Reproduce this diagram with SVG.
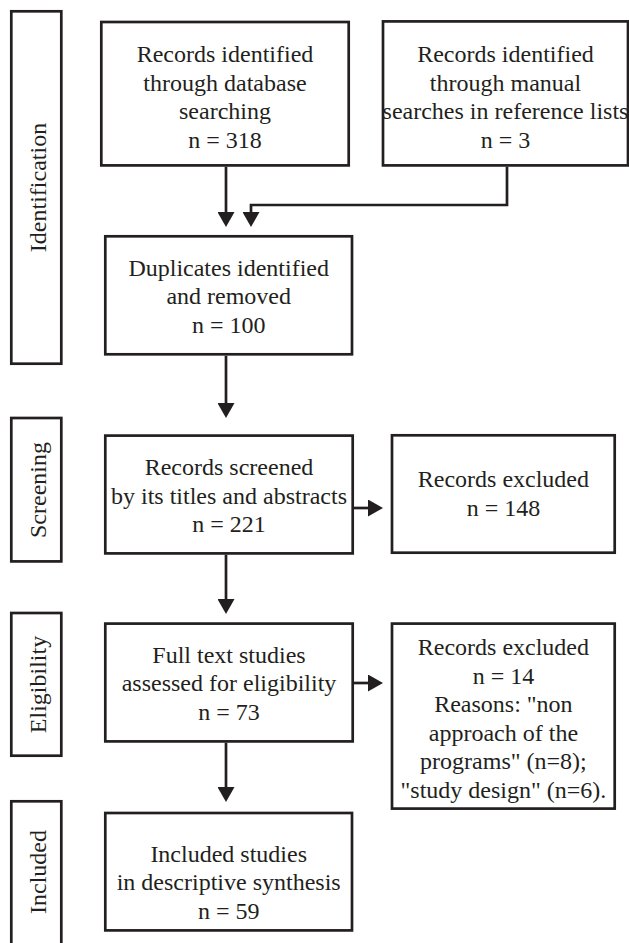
<svg xmlns="http://www.w3.org/2000/svg" width="629" height="943" viewBox="0 0 629 943">
<style>
  .box{fill:#fff;stroke:#231f20;stroke-width:2.7}
  .t{font-family:"Liberation Serif","Times New Roman",serif;font-size:24px;fill:#231f20;text-anchor:middle}
  .c{fill:none;stroke:#231f20;stroke-width:2.7}
</style>
<defs>
  <marker id="ah" markerUnits="userSpaceOnUse" viewBox="0 0 15 17" markerWidth="15" markerHeight="17" refX="5" refY="8.5" orient="auto">
    <path d="M0,0 L15,8.5 L0,17 Z" fill="#231f20"/>
  </marker>
</defs>
<rect width="629" height="943" fill="#fff"/>

<g id="stage-identification">
  <rect class="box" x="11.3" y="11.3" width="50" height="352.4"/>
  <text class="t" transform="translate(46,187.5) rotate(-90)">Identification</text>
</g>
<g id="stage-screening">
  <rect class="box" x="11.3" y="418" width="50" height="143.4"/>
  <text class="t" transform="translate(46,490) rotate(-90)">Screening</text>
</g>
<g id="stage-eligibility">
  <rect class="box" x="11.3" y="613" width="50" height="142.7"/>
  <text class="t" transform="translate(46,684.5) rotate(-90)">Eligibility</text>
</g>
<g id="stage-included">
  <rect class="box" x="11.3" y="801.3" width="50" height="160"/>
  <text class="t" transform="translate(46,872) rotate(-90)">Included</text>
</g>

<g id="n-database">
  <rect class="box" x="101.3" y="22" width="247.4" height="143.4"/>
  <text class="t" x="225" y="62">Records identified</text>
  <text class="t" x="225" y="90.5">through database</text>
  <text class="t" x="225" y="119">searching</text>
  <text class="t" x="225" y="147.5">n = 318</text>
</g>
<g id="n-manual">
  <rect class="box" x="383" y="21.4" width="245" height="144"/>
  <text class="t" x="505.5" y="62">Records identified</text>
  <text class="t" x="505.5" y="90.5">through manual</text>
  <text class="t" x="505.5" y="119">searches in reference lists</text>
  <text class="t" x="505.5" y="147.5">n = 3</text>
</g>
<g id="n-duplicates">
  <rect class="box" x="105.3" y="236.3" width="246.7" height="118"/>
  <text class="t" x="228.7" y="275.5">Duplicates identified</text>
  <text class="t" x="228.7" y="304">and removed</text>
  <text class="t" x="228.7" y="332.5">n = 100</text>
</g>
<g id="n-screened">
  <rect class="box" x="105.3" y="435.6" width="247.4" height="117.8"/>
  <text class="t" x="229" y="475">Records screened</text>
  <text class="t" x="229" y="503.5">by its titles and abstracts</text>
  <text class="t" x="229" y="532">n = 221</text>
</g>
<g id="n-excluded-148">
  <rect class="box" x="392" y="435.3" width="222.7" height="117.4"/>
  <text class="t" x="503.4" y="487">Records excluded</text>
  <text class="t" x="503.4" y="515.5">n = 148</text>
</g>
<g id="n-fulltext">
  <rect class="box" x="105.3" y="623.6" width="247.4" height="117.8"/>
  <text class="t" x="229" y="662.5">Full text studies</text>
  <text class="t" x="229" y="691">assessed for eligibility</text>
  <text class="t" x="229" y="719.5">n = 73</text>
</g>
<g id="n-excluded-14">
  <rect class="box" x="392" y="623.6" width="222.7" height="185"/>
  <text class="t" x="503.4" y="655">Records excluded</text>
  <text class="t" x="503.4" y="683.5">n = 14</text>
  <text class="t" x="503.4" y="712">Reasons: "non</text>
  <text class="t" x="503.4" y="740.5">approach of the</text>
  <text class="t" x="503.4" y="769">programs" (n=8);</text>
  <text class="t" x="503.4" y="797.5">"study design" (n=6).</text>
</g>
<g id="n-included">
  <rect class="box" x="105.3" y="813" width="246.7" height="117.4"/>
  <text class="t" x="228.7" y="861.5">Included studies</text>
  <text class="t" x="228.7" y="890">in descriptive synthesis</text>
  <text class="t" x="228.7" y="918.5">n = 59</text>
</g>

<g id="connectors">
  <path class="c" d="M226,166.7 V217" marker-end="url(#ah)"/>
  <path class="c" d="M507,166.7 V205 H251 V217" marker-end="url(#ah)"/>
  <path class="c" d="M226,355.7 V408" marker-end="url(#ah)"/>
  <path class="c" d="M226,554.7 V604" marker-end="url(#ah)"/>
  <path class="c" d="M354,508 H373" marker-end="url(#ah)"/>
  <path class="c" d="M226,742.7 V792" marker-end="url(#ah)"/>
  <path class="c" d="M354,683 H373" marker-end="url(#ah)"/>
</g>
</svg>
